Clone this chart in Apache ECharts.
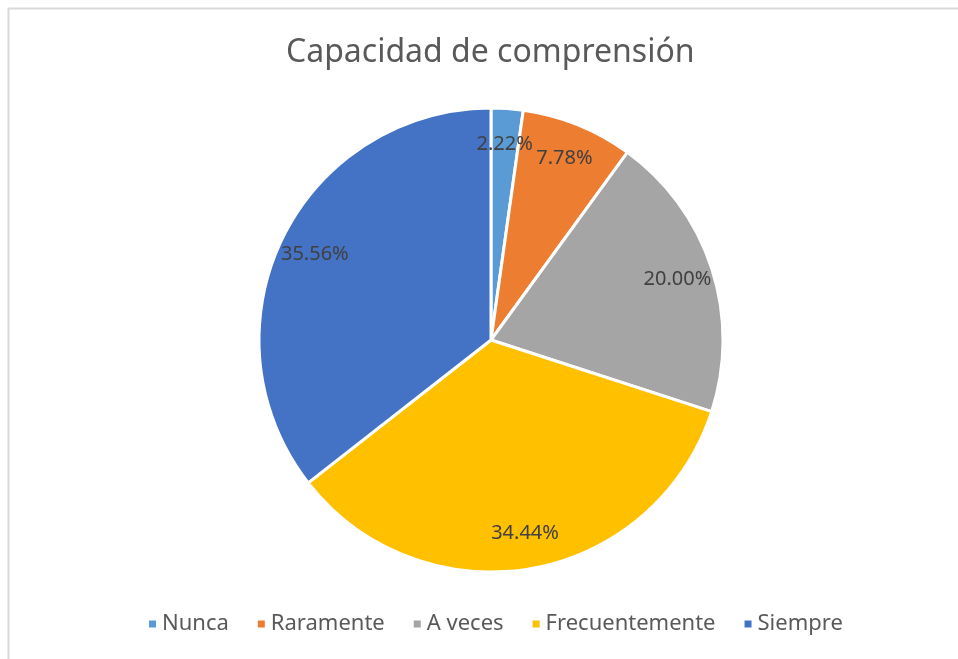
<!DOCTYPE html>
<html>
<head>
    <meta charset="utf-8" />
    <title>Capacidad de comprensión</title>
    <script src="https://cdn.jsdelivr.net/npm/echarts@6/dist/echarts.min.js"></script>
    <style>
        html, body { margin: 0; padding: 0; background: #fff; }
        #main { width: 958px; height: 659px; }
    </style>
</head>
<body>
    <div id="main"></div>
    <script type="text/javascript">
        // respuestas (n = 90)
        var categorias = ['Nunca', 'Raramente', 'A veces', 'Frecuentemente', 'Siempre'];
        var valores = [2, 7, 18, 31, 32];
        var colores = ['#5B9BD5', '#ED7D31', '#A5A5A5', '#FFC000', '#4472C4'];

        var datos = categorias.map(function (c, i) {
            return { name: c, value: valores[i] };
        });

        var myChart = echarts.init(document.getElementById('main'));
        var option = {
            color: colores,
            textStyle: { fontFamily: 'Noto Sans' },
            title: {
                text: 'Capacidad de comprensión',
                left: 281,
                top: 32,
                textStyle: { fontSize: 32, fontWeight: 'normal', color: '#595959' }
            },
            legend: {
                bottom: 19,
                left: 142,
                icon: 'rect',
                itemWidth: 9,
                itemHeight: 9,
                itemGap: 27,
                textStyle: { fontSize: 22, color: '#595959' },
                data: categorias
            },
            graphic: [{
                type: 'rect',
                shape: { x: 8.5, y: 8.5, width: 980, height: 680 },
                style: { fill: 'none', stroke: '#D9D9D9', lineWidth: 2 },
                silent: true
            }],
            series: [
                {
                    name: 'Capacidad de comprensión',
                    type: 'pie',
                    center: [491, 340],
                    radius: [0, 232],
                    startAngle: 90,
                    clockwise: true,
                    label: { show: false },
                    labelLine: { show: false },
                    itemStyle: { borderColor: '#fff', borderWidth: 3 },
                    emphasis: { disabled: true },
                    data: datos
                },
                {
                    // capa de etiquetas
                    type: 'pie',
                    center: [491, 340],
                    radius: [154, 232],
                    startAngle: 90,
                    silent: true,
                    itemStyle: { color: 'rgba(0,0,0,0)' },
                    label: {
                        show: true,
                        position: 'inside',
                        fontSize: 20,
                        color: '#404040',
                        formatter: function (p) {
                            return p.percent.toFixed(2) + '%';
                        }
                    },
                    labelLine: { show: false },
                    emphasis: { disabled: true },
                    data: datos
                }
            ]
        };
        myChart.setOption(option);
    </script>
</body>
</html>
